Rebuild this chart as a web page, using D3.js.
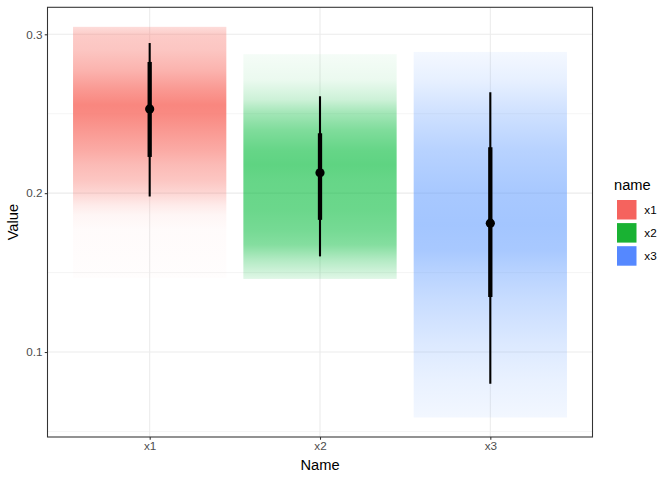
<!DOCTYPE html>
<html><head><meta charset="utf-8">
<script src="https://cdn.jsdelivr.net/npm/d3@7"></script>
<style>body{margin:0;background:#fff}svg{display:block;font-family:"Liberation Sans",Arial,sans-serif}</style>
</head><body><svg id="c" width="672" height="480"></svg>
<script>
const categories = ["x1","x2","x3"];
const colors = ["#F8766D","#00BA38","#619CFF"];
const legendColors = ["#F5635E","#19B233","#5588FF"];
const pointValues = [0.253, 0.2128, 0.1811];
const thickLo = [0.2228, 0.1832, 0.1346];
const thickHi = [0.2826, 0.2377, 0.2289];
const thinLo = [0.1979, 0.1602, 0.0801];
const thinHi = [0.2945, 0.261, 0.2635];
// gradient profiles: [value, opacity]
const gradX1 = [[0.3047,0.25],[0.2996,0.38],[0.290,0.42],[0.2775,0.55],[0.265,0.75],[0.2555,0.88],[0.2492,0.85],[0.2398,0.75],[0.2272,0.62],[0.2178,0.5],[0.2084,0.42],[0.2002,0.3],[0.1926,0.15],[0.1863,0.07],[0.177,0.03],[0.1467,0.015]];
const gradX2 = [[0.2875,0.04],[0.2712,0.08],[0.2587,0.2],[0.2511,0.35],[0.2398,0.5],[0.2272,0.6],[0.2178,0.63],[0.2084,0.6],[0.1895,0.58],[0.177,0.54],[0.1675,0.48],[0.158,0.3],[0.146,0.12]];
const gradX3 = [[0.2889,0.07],[0.2713,0.15],[0.2511,0.3],[0.2272,0.45],[0.2008,0.55],[0.18,0.58],[0.1643,0.55],[0.1505,0.45],[0.1329,0.35],[0.1046,0.22],[0.0826,0.14],[0.0588,0.08]];
const gradients = [gradX1, gradX2, gradX3];
const yTicks = [0.1, 0.2, 0.3];
const yMinor = [0.05, 0.15, 0.25];

const svg = d3.select("#c");
const L = 47.5, R = 592.5, T = 7.3, B = 437;
const allVals = gradients.flat().map(d => d[0]);
const lo = d3.min(allVals), hi = d3.max(allVals), pad = (hi - lo) * 0.05;
const y = d3.scaleLinear().domain([lo - pad, hi + pad]).range([B, T]);
const x = d3.scalePoint().domain(categories).range([L, R]).padding(0.6);
const bw = x.step() * 0.9;

const defs = svg.append("defs");
const g = svg.append("g");
// grid
g.selectAll(".mn").data(yMinor.filter(v => y(v) <= B)).join("line")
  .attr("x1", L).attr("x2", R).attr("y1", d => y(d)).attr("y2", d => y(d))
  .attr("stroke", "#EBEBEB").attr("stroke-width", 0.55);
g.selectAll(".mj").data(yTicks).join("line")
  .attr("x1", L).attr("x2", R).attr("y1", d => y(d)).attr("y2", d => y(d))
  .attr("stroke", "#EBEBEB").attr("stroke-width", 1.07);
g.selectAll(".vx").data(categories).join("line")
  .attr("x1", d => x(d)).attr("x2", d => x(d)).attr("y1", T).attr("y2", B)
  .attr("stroke", "#EBEBEB").attr("stroke-width", 1.07);

// gradients
categories.forEach((c, i) => {
  const gr = gradients[i];
  const top = d3.max(gr, d => d[0]), bot = d3.min(gr, d => d[0]);
  const lg = defs.append("linearGradient").attr("id", "g" + i)
    .attr("x1", 0).attr("x2", 0).attr("y1", 0).attr("y2", 1);
  gr.forEach(([v, a]) => {
    lg.append("stop").attr("offset", (y(v) - y(top)) / (y(bot) - y(top)))
      .attr("stop-color", colors[i]).attr("stop-opacity", a);
  });
  g.append("rect").attr("x", x(c) - bw / 2).attr("width", bw)
    .attr("y", y(top)).attr("height", y(bot) - y(top))
    .attr("fill", `url(#g${i})`);
});

// intervals
categories.forEach((c, i) => {
  g.append("line").attr("x1", x(c)).attr("x2", x(c))
    .attr("y1", y(thinLo[i])).attr("y2", y(thinHi[i]))
    .attr("stroke", "#000").attr("stroke-width", 2.1);
  g.append("line").attr("x1", x(c)).attr("x2", x(c))
    .attr("y1", y(thickLo[i])).attr("y2", y(thickHi[i]))
    .attr("stroke", "#000").attr("stroke-width", 4.3);
  g.append("circle").attr("cx", x(c)).attr("cy", y(pointValues[i]))
    .attr("r", 4.6).attr("fill", "#000");
});

// border
svg.append("rect").attr("x", L).attr("y", T).attr("width", R - L).attr("height", B - T)
  .attr("fill", "none").attr("stroke", "#333333").attr("stroke-width", 1.07);

// axes
const yAxis = svg.append("g").attr("transform", `translate(${L},0)`)
  .call(d3.axisLeft(y).tickValues(yTicks).tickSize(2.75).tickPadding(2.2).tickFormat(d3.format(".1f")));
const xAxis = svg.append("g").attr("transform", `translate(0,${B})`)
  .call(d3.axisBottom(x).tickSize(2.75).tickPadding(2.2));
[yAxis, xAxis].forEach(a => {
  a.select(".domain").remove();
  a.selectAll(".tick line").attr("stroke", "#333333").attr("stroke-width", 1.07);
  a.selectAll(".tick text").attr("fill", "#4D4D4D").style("font-size", "11.7px")
    .style("font-family", '"Liberation Sans",Arial,sans-serif');
});

svg.append("text").attr("x", (L + R) / 2).attr("y", 470).attr("text-anchor", "middle")
  .style("font-size", "14.67px").text("Name");
svg.append("text").attr("transform", `translate(18,${(T + B) / 2}) rotate(-90)`)
  .attr("text-anchor", "middle").style("font-size", "14.67px").text("Value");

// legend
const lg = svg.append("g");
lg.append("text").attr("x", 614).attr("y", 190).style("font-size", "14.67px").text("name");
categories.forEach((c, i) => {
  const ky = 200 + i * 23.1;
  lg.append("rect").attr("x", 617).attr("y", ky).attr("width", 19.5).attr("height", 19.5)
    .attr("fill", legendColors[i]);
  lg.append("text").attr("x", 644.3).attr("y", ky + 9.75).attr("dy", "0.35em")
    .style("font-size", "11.7px").text(c);
});
</script></body></html>
